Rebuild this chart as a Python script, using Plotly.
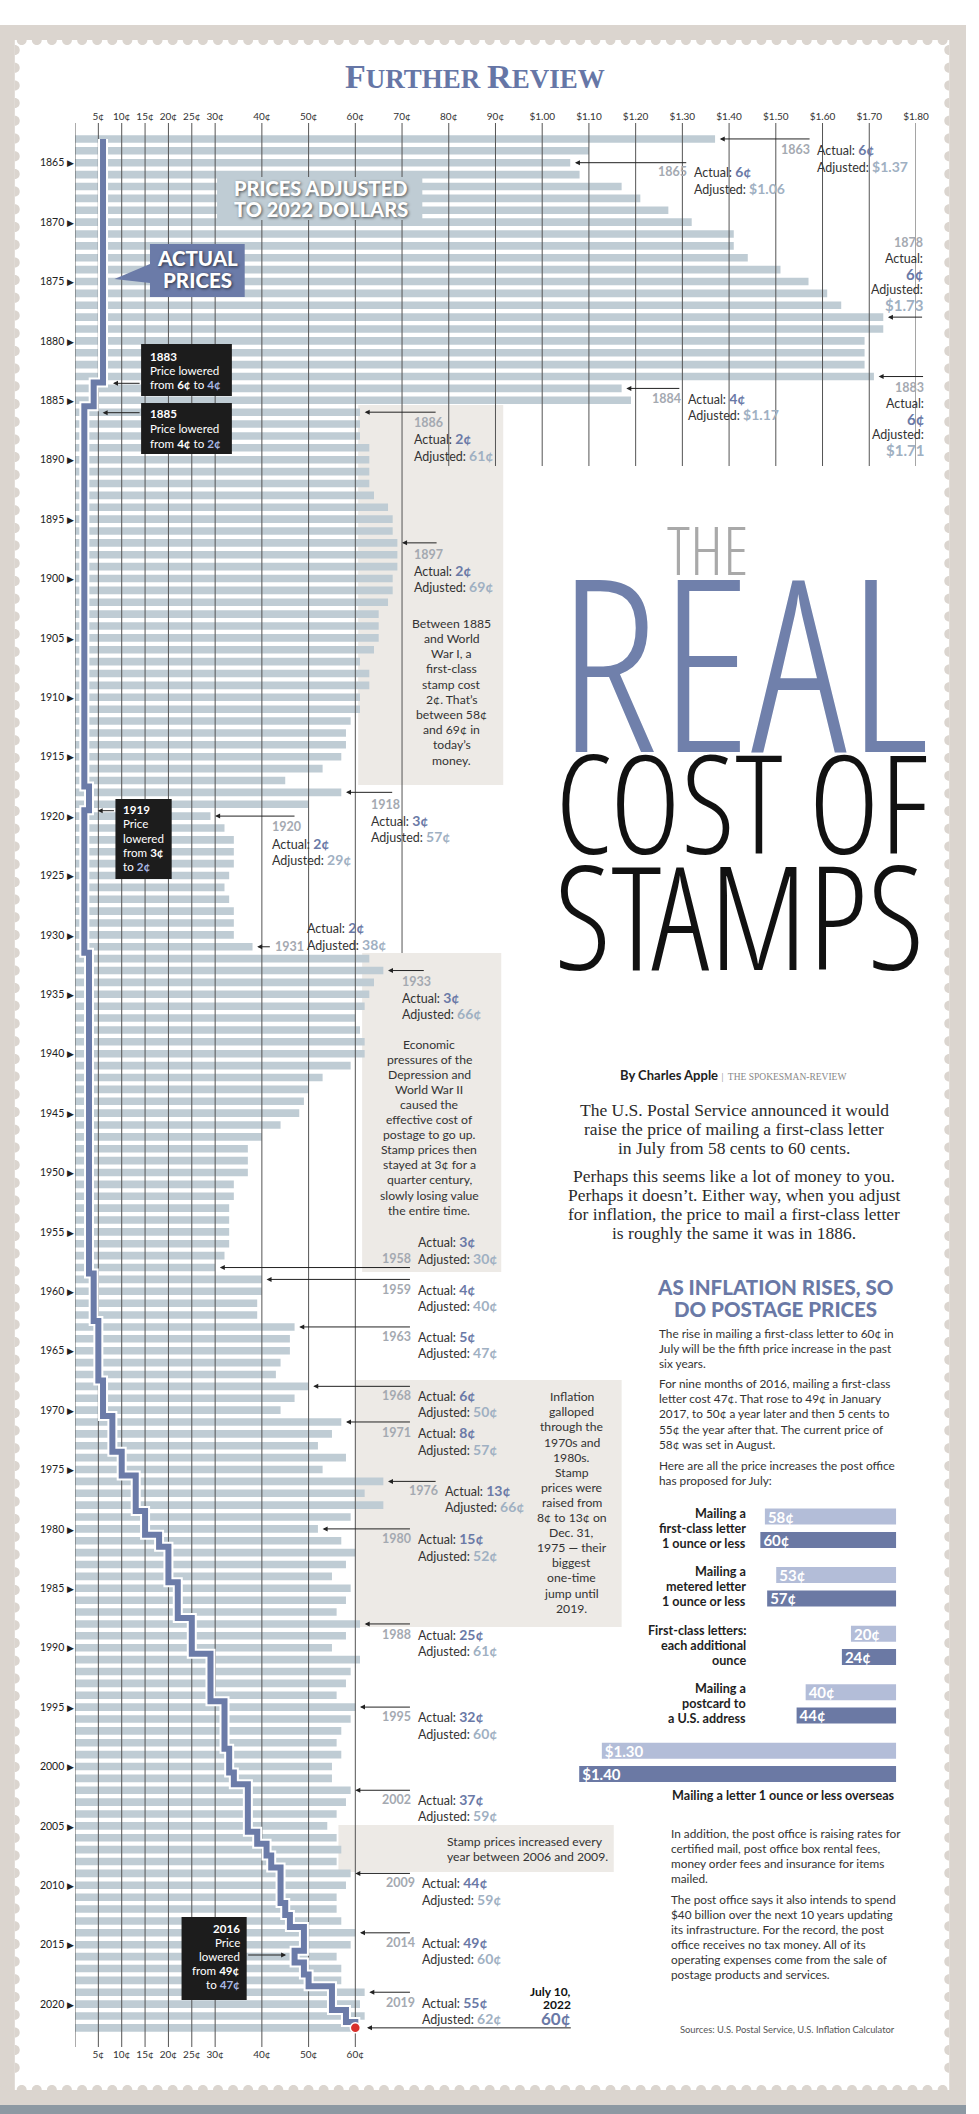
import plotly.graph_objects as go

W, H = 979, 2114

# ---------------- DATA ----------------
years = list(range(1863, 2023))

# Actual first-class price (cents), 1863-2022
actual = [
    6, 6, 6, 6, 6, 6, 6,                      # 1863-1869
    6, 6, 6, 6, 6, 6, 6, 6, 6, 6,             # 1870s
    6, 6, 6, 6, 4, 4, 2, 2, 2, 2,             # 1880s
    2, 2, 2, 2, 2, 2, 2, 2, 2, 2,             # 1890s
    2, 2, 2, 2, 2, 2, 2, 2, 2, 2,             # 1900s
    2, 2, 2, 2, 2, 2, 2, 2, 3, 3,             # 1910s
    2, 2, 2, 2, 2, 2, 2, 2, 2, 2,             # 1920s
    2, 2, 3, 3, 3, 3, 3, 3, 3, 3,             # 1930s
    3, 3, 3, 3, 3, 3, 3, 3, 3, 3,             # 1940s
    3, 3, 3, 3, 3, 3, 3, 3, 3, 4,             # 1950s
    4, 4, 4, 5, 5, 5, 5, 5, 6, 6,             # 1960s
    6, 8, 8, 8, 10, 10, 13, 13, 13, 15,       # 1970s
    15, 18, 20, 20, 20, 22, 22, 22, 25, 25,   # 1980s
    25, 29, 29, 29, 29, 32, 32, 32, 32, 33,   # 1990s
    33, 34, 37, 37, 37, 37, 39, 41, 42, 44,   # 2000s
    44, 44, 45, 46, 49, 49, 47, 49, 50, 55,   # 2010s
    55, 58, 60,                               # 2020-2022
]

# Price adjusted to 2022 dollars (cents), 1863-2022
adjusted = [
    137, 110, 106, 108, 117, 121, 127,
    132, 141, 141, 144, 151, 157, 161, 164, 173, 173,
    169, 169, 169, 171, 117, 119, 61, 61, 61, 63,
    63, 63, 63, 64, 67, 68, 68, 69, 69, 69,
    68, 68, 67, 65, 65, 65, 64, 61, 63, 63,
    61, 61, 59, 58, 58, 57, 53, 45, 57, 50,
    29, 32, 34, 34, 34, 33, 32, 33, 34, 34,
    34, 38, 63, 66, 64, 63, 62, 60, 61, 62,
    62, 59, 53, 50, 49, 48, 44, 40, 37, 37,
    37, 34, 34, 33, 33, 33, 33, 32, 30, 40,
    40, 39, 39, 47, 46, 46, 44, 43, 50, 47,
    44, 57, 55, 52, 58, 53, 66, 62, 66, 59,
    52, 57, 60, 58, 55, 59, 58, 56, 61, 58,
    55, 61, 59, 58, 56, 60, 59, 57, 56, 57,
    55, 55, 59, 58, 56, 54, 56, 57, 56, 59,
    58, 56, 56, 57, 60, 59, 56, 57, 57, 62,
    61, 62, 60,
]

top_ticks = [5, 10, 15, 20, 25, 30, 40, 50, 60, 70, 80, 90, 100, 110, 120,
             130, 140, 150, 160, 170, 180]
bottom_ticks = [5, 10, 15, 20, 25, 30, 40, 50, 60]
year_ticks = [1865, 1870, 1875, 1880, 1885, 1890, 1895, 1900, 1905, 1910,
              1915, 1920, 1925, 1930, 1935, 1940, 1945, 1950, 1955, 1960,
              1965, 1970, 1975, 1980, 1985, 1990, 1995, 2000, 2005, 2010,
              2015, 2020]

rate_items = ["first-class", "metered", "additional", "postcard", "overseas"]
rate_current = [58, 53, 20, 40, 130]
rate_proposed = [60, 57, 24, 44, 140]

# ---------------- HELPERS (layout geometry) ----------------
X0, XS = 76.0, 4.735      # px of 0 cents, px per cent
Y0, YS = 162.7, 11.88     # px of year 1865, px per year


def X(px):
    return (px - X0) / XS


def Y(py):
    return 1865 + (py - Y0) / YS


def PX(px):
    return px / W


def PY(py):
    return 1 - py / H


def money(c):
    return f"${c / 100:.2f}" if c >= 100 else f"{c}¢"


FONT = "Lato, 'Open Sans', sans-serif"
SERIF = "'Liberation Serif', 'DejaVu Serif', serif"
TITLE = "'Open Sans Condensed Light', 'Open Sans Condensed', 'Open Sans', sans-serif"
TXT = "#333333"
A_COL = "#6a79a6"
ADJ_COL = "#9fb0c2"
YR_COL = "#a4a9b1"
SLATE = "#6b7ba8"
BAR = "#bfccd4"

fig = go.Figure()

# adjusted bars
fig.add_trace(go.Bar(
    x=adjusted, y=years, orientation="h", width=0.64,
    marker=dict(color=BAR, line=dict(width=0)),
    xaxis="x", yaxis="y", hoverinfo="skip", showlegend=False))

# grid lines (drawn above bars, below step line)
gx, gy = [], []
for v in [0] + bottom_ticks:
    gx += [v, v, None]
    gy += [Y(123), Y(2047), None]
gx += [70, 70, None]
gy += [Y(123), Y(953), None]
for v in top_ticks[10:]:
    gx += [v, v, None]
    gy += [Y(123), Y(466), None]
fig.add_trace(go.Scatter(x=gx, y=gy, mode="lines",
                         line=dict(color="#555555", width=1),
                         xaxis="x", yaxis="y", hoverinfo="skip", showlegend=False))

# actual price step line
fig.add_trace(go.Scatter(x=actual, y=years, mode="lines",
                         line=dict(color="white", width=10, shape="vhv"),
                         xaxis="x", yaxis="y", hoverinfo="skip", showlegend=False))
fig.add_trace(go.Scatter(x=actual, y=years, mode="lines",
                         line=dict(color=SLATE, width=6, shape="vhv"),
                         xaxis="x", yaxis="y", hoverinfo="skip", showlegend=False))
fig.add_trace(go.Scatter(x=[actual[-1]], y=[years[-1]], mode="markers",
                         marker=dict(color="#d8302b", size=10,
                                     line=dict(color="white", width=1.5)),
                         xaxis="x2", yaxis="y", hoverinfo="skip", showlegend=False))

# small proposed-rates chart
for vals, off, col in [(rate_current, -0.336, "#b3bdd8"), (rate_proposed, 0.062, "#6b79a4")]:
    fig.add_trace(go.Bar(
        x=vals, y=rate_items, orientation="h", width=0.2735, offset=off,
        marker=dict(color=col, line=dict(width=0)),
        text=[money(v) for v in vals], textposition="inside",
        insidetextanchor="end", textangle=0, constraintext="none",
        textfont=dict(color="white", size=15, family=FONT, weight="bold"),
        xaxis="x3", yaxis="y3", hoverinfo="skip", showlegend=False))

# ---------------- SHAPES ----------------
shapes = []


def rect(x0, y0, x1, y1, color, layer="below"):
    shapes.append(dict(type="rect", xref="paper", yref="paper",
                       x0=PX(x0), x1=PX(x1), y0=PY(y1), y1=PY(y0),
                       fillcolor=color, line=dict(width=0), layer=layer))


# stamp frame
rect(0, 25, W, 2105, "#dbd5cf")
rect(0, 2105, W, H, "#8d99a3")
rect(15, 40, 962, 2090, "#ffffff")
r = 5.0
k = 1.33 * r
parts = []
x = 22.0
while x < 958:
    parts.append(f"M{PX(x - r)},{PY(40)} C{PX(x - r)},{PY(40 + k)} {PX(x + r)},{PY(40 + k)} {PX(x + r)},{PY(40)} Z")
    parts.append(f"M{PX(x - r)},{PY(2090)} C{PX(x - r)},{PY(2090 - k)} {PX(x + r)},{PY(2090 - k)} {PX(x + r)},{PY(2090)} Z")
    x += 15.3
y = 50.0
while y < 2085:
    parts.append(f"M{PX(15)},{PY(y - r)} C{PX(15 + k)},{PY(y - r)} {PX(15 + k)},{PY(y + r)} {PX(15)},{PY(y + r)} Z")
    parts.append(f"M{PX(962)},{PY(y - r)} C{PX(962 - k)},{PY(y - r)} {PX(962 - k)},{PY(y + r)} {PX(962)},{PY(y + r)} Z")
    y += 17.7
shapes.append(dict(type="path", xref="paper", yref="paper", path=" ".join(parts),
                   fillcolor="#dbd5cf", line=dict(width=0), layer="below"))

# grey note boxes
BOX = "#edeae6"
rect(363, 405, 510, 785, BOX)
rect(367, 953, 508, 1272, BOX)
rect(360, 1380, 630, 1627, BOX)
rect(343, 1825, 622, 1872, BOX)

# label boxes over chart
rect(220, 177, 428, 220, BAR, "above")
rect(152, 244, 248, 297, SLATE, "above")
shapes.append(dict(type="path", xref="paper", yref="paper",
                   path=f"M{PX(152)},{PY(264)} L{PX(116)},{PY(279)} L{PX(152)},{PY(283)} Z",
                   fillcolor=SLATE, line=dict(width=0), layer="above"))
BLK = "#1c1c1c"
rect(143, 344, 235, 396, BLK, "above")
rect(143, 403, 235, 454, BLK, "above")
rect(117, 799, 174, 879, BLK, "above")
rect(184, 1917, 250, 2000, BLK, "above")

# ---------------- ANNOTATIONS ----------------
ann = []


def arrow(xh, yh, xt):
    ann.append(dict(x=xh, y=yh, ax=xt, ay=yh, xref="x", yref="y", axref="x",
                    ayref="y", text="", showarrow=True, arrowhead=2, arrowsize=1,
                    arrowwidth=1, arrowcolor="#222222", standoff=0))


def txt(text, px, py, xanchor="left", size=12.5, color=TXT, family=FONT,
        weight=None, shadow=None):
    f = dict(size=size, color=color, family=family)
    if weight:
        f["weight"] = weight
    if shadow:
        f["shadow"] = shadow
    ann.append(dict(x=PX(px), y=PY(py), xref="paper", yref="paper", text=text,
                    showarrow=False, xanchor=xanchor, yanchor="middle",
                    align=xanchor, font=f, borderpad=0))


def lines(rows, px, py0, dy, xanchor="left", **kw):
    for j, row in enumerate(rows):
        txt(row, px, py0 + j * dy, xanchor, **kw)


def val(c, color, size=14):
    return f"<b><span style='color:{color};font-size:{size}px'>{money(c)}</span></b>"


def yr(year):
    return f"<b><span style='color:{YR_COL}'>{year}</span></b>"


def adj_of(year):
    return adjusted[years.index(year)]


def act_of(year):
    return actual[years.index(year)]


def act_line(year):
    return f"Actual: {val(act_of(year), A_COL)}"


def adj_line(year):
    return f"Adjusted: {val(adj_of(year), ADJ_COL)}"


LS = 16.3  # callout line spacing

# inline callouts (year label left of 'Actual')
inline = [(1863, 822, 826.5, 150), (1865, 697, 702.7, 171.7), (1884, 690, 696, 398.3),
          (1959, 417, 422.7, 1289), (1963, 417, 422.7, 1336.5), (1968, 417, 422.7, 1395),
          (1971, 417, 422.7, 1432.7), (1976, 443, 450, 1490), (1980, 417, 422.7, 1538.7),
          (1988, 417, 422.7, 1634), (1995, 417, 422.7, 1716.7), (2002, 417, 422.7, 1799),
          (2009, 417, 426.7, 1882.7), (2014, 417, 426.7, 1942), (2019, 417, 426.7, 2002)]
for year, tail, xl, y1 in inline:
    arrow(adj_of(year) + 1, year, X(tail))
    txt(yr(year), xl - 5, y1, "right")
    lines([act_line(year), adj_line(year)], xl, y1, LS)

# stacked callouts
stacked = [(1886, 443, 419, 422.7), (1897, 444, 419, 554), (1918, 399, 375, 804),
           (1920, 300, 275, 826.7), (1933, 431, 406, 981)]
for year, tail, xl, y1 in stacked:
    arrow(adj_of(year) + 1, year, X(tail))
    lines([yr(year), act_line(year), adj_line(year)], xl, y1, LS)

# right-aligned callouts
for year, xr, y1 in [(1878, 936, 242.7), (1883, 937, 387.7)]:
    arrow(adj_of(year) + 1, year, X(xr))
    lines([yr(year), "Actual:", val(act_of(year), A_COL, 15), "Adjusted:",
           val(adj_of(year), ADJ_COL, 15)], xr, y1, 15.6, "right")

# 1931
arrow(adj_of(1931) + 1, 1931, X(275))
txt(yr(1931), 278, 946.7, "left")
lines([act_line(1931), adj_line(1931)], 310, 927.7, 17)
# 1958
arrow(adj_of(1958) + 1, 1958, X(417))
lines([act_line(1958), adj_line(1958)], 422.7, 1241.7, 16.6)
txt(yr(1958), 417.7, 1258.3, "right")

# 2022
arrow(actual[-1] + 2.5, 2022, X(580))
txt("<b>July 10,</b>", 580, 1991, "right", size=12, color="#111")
txt("<b>2022</b>", 580, 2004.5, "right", size=12, color="#111")
txt(f"<b>{money(actual[-1])}</b>", 580, 2018.5, "right", size=17, color=A_COL)

# black box notes
LB = "#aab8e6"


def lb(c):
    return f"<b><span style='color:{LB}'>{money(c)}</span></b>"


WK = dict(size=11.6, color="white")
lines(["<b>1883</b>", "Price lowered",
       f"from <b>{money(act_of(1883))}</b> to {lb(act_of(1884))}"], 150.7, 356, 14.2, **WK)
arrow(X(114.5), Y(383.3), X(143))
lines(["<b>1885</b>", "Price lowered",
       f"from <b>{money(act_of(1885))}</b> to {lb(act_of(1886))}"], 150.7, 414, 14.6, **WK)
arrow(X(104), Y(412.7), X(143))
lines(["<b>1919</b>", "Price", "lowered", f"from <b>{money(act_of(1919))}</b>",
       f"to {lb(act_of(1920))}"], 123.3, 809.3, 14.35, **WK)
arrow(X(99), Y(810.7), X(117))
lines(["<b>2016</b>", "Price", "lowered", f"from <b>{money(act_of(2015))}</b>",
       f"to {lb(act_of(2016))}"], 244, 1928.3, 14.0, "right", **WK)
ann.append(dict(x=X(290), y=Y(1955), ax=X(250), ay=Y(1955), xref="x", yref="y",
                axref="x", ayref="y", text="", showarrow=True, arrowhead=2,
                arrowsize=1, arrowwidth=1, arrowcolor="#222222", standoff=0))

# chart labels
SH = "1px 1px 3px rgba(0,0,0,0.6)"
lines(["PRICES ADJUSTED", "TO 2022 DOLLARS"], 325, 188.3, 21, "center", size=20,
      color="white", weight=900, shadow=SH)
lines(["ACTUAL", "PRICES"], 200, 258.3, 21.7, "center", size=20.5, color="white",
      weight=900, shadow=SH)

# box paragraphs
lines(["Between 1885", "and World", "War I, a", "first-class", "stamp cost", "2¢. That’s",
       "between 58¢", "and 69¢ in", "today’s", "money."], 458, 623.3, 15.2, "center", size=12.2)
lines(["Economic", "pressures of the", "Depression and", "World War II", "caused the",
       "effective cost of", "postage to go up.", "Stamp prices then", "stayed at 3¢ for a",
       "quarter century,", "slowly losing value", "the entire time."], 435, 1044, 15.1,
      "center", size=12.2)
lines(["Inflation", "galloped", "through the", "1970s and", "1980s.", "Stamp", "prices were",
       "raised from", "8¢ to 13¢ on", "Dec. 31,", "1975 — their", "biggest", "one-time",
       "jump until", "2019."], 579.3, 1396.7, 15.1, "center", size=12.2)
lines(["Stamp prices increased every", "year between 2006 and 2009."], 452.3, 1841,
      15.3, "left", size=12.2)

# header
txt("<b><span style='font-size:34px'>F</span>URTHER <span style='font-size:34px'>R</span>EVIEW</b>",
    481, 77, "center", size=27, color="#6676a6", family=SERIF)

# title
ST = "<span style='font-stretch:condensed'>{}</span>"
txt(ST.format("THE"), 717, 549, "center", size=66, color="#a9a9a9", family=TITLE, weight=300)
txt(ST.format("REAL"), 753, 658.7, "center", size=240, color="#7080ab", family=TITLE, weight=300)
txt(ST.format("COST OF"), 751, 801, "center", size=137, color="#111111", family=TITLE, weight=300)
txt(ST.format("STAMPS"), 749, 914, "center", size=145, color="#111111", family=TITLE, weight=300)

# byline and intro
txt("<b>By Charles Apple</b> <span style='font-family:Liberation Serif;font-size:9.5px;color:#888'>"
    "|  THE SPOKESMAN-REVIEW</span>", 743, 1075, "center", size=13, color="#222")
lines(["The U.S. Postal Service announced it would",
       "raise the price of mailing a first-class letter",
       "in July from 58 cents to 60 cents."], 744, 1110, 19.2, "center",
      size=17.5, color="#2b2b2b", family=SERIF)
lines(["Perhaps this seems like a lot of money to you.",
       "Perhaps it doesn’t. Either way, when you adjust",
       "for inflation, the price to mail a first-class letter",
       "is roughly the same it was in 1886."], 744, 1176, 19.1, "center",
      size=17.5, color="#2b2b2b", family=SERIF)

lines(["AS INFLATION RISES, SO", "DO POSTAGE PRICES"], 785.7, 1287, 21.5, "center",
      size=20.5, color="#6a79a6", weight=900)

BS = dict(size=11.8)
lines(["The rise in mailing a first-class letter to 60¢ in",
       "July will be the fifth price increase in the past", "six years."],
      667.3, 1333.3, 15.1, **BS)
lines(["For nine months of 2016, mailing a first-class",
       "letter cost 47¢. That rose to 49¢ in January",
       "2017, to 50¢ a year later and then 5 cents to",
       "55¢ the year after that. The current price of",
       "58¢ was set in August."], 667.3, 1383.3, 15.25, **BS)
lines(["Here are all the price increases the post office", "has proposed for July:"],
      667.3, 1465, 15.3, **BS)

# rate chart labels
LK = dict(size=12.6, color="#1e1e1e")
lines(["<b>Mailing a</b>", "<b>first-class letter</b>", "<b>1 ounce or less</b>"],
      757, 1513.3, 15.0, "right", **LK)
lines(["<b>Mailing a</b>", "<b>metered letter</b>", "<b>1 ounce or less</b>"],
      757, 1571, 15.3, "right", **LK)
lines(["<b>First-class letters:</b>", "<b>each additional</b>", "<b>ounce</b>"],
      757, 1630, 15.0, "right", **LK)
lines(["<b>Mailing a</b>", "<b>postcard to</b>", "<b>a U.S. address</b>"],
      757, 1688.3, 15.0, "right", **LK)
txt("<b>Mailing a letter 1 ounce or less overseas</b>", 908.3, 1795, "right", **LK)

lines(["In addition, the post office is raising rates for",
       "certified mail, post office box rental fees,",
       "money order fees and insurance for items", "mailed."], 679, 1833.3, 15.0, **BS)
lines(["The post office says it also intends to spend",
       "$40 billion over the next 10 years updating",
       "its infrastructure. For the record, the post",
       "office receives no tax money. All of its",
       "operating expenses come from the sale of",
       "postage products and services."], 679, 1899, 15.06, **BS)
txt("Sources: U.S. Postal Service, U.S. Inflation Calculator", 908.3, 2029.3, "right",
    size=9.4, color="#555")

# ---------------- LAYOUT ----------------
xdom = [X0 / W, (X0 + 180 * XS) / W]
fig.update_layout(
    width=W, height=H, margin=dict(l=0, r=0, t=0, b=0),
    paper_bgcolor="white", plot_bgcolor="rgba(0,0,0,0)",
    showlegend=False, barmode="overlay", hovermode=False,
    font=dict(family=FONT, color=TXT),
    xaxis=dict(domain=xdom, range=[0, 180], tickvals=bottom_ticks,
               ticktext=[money(v) for v in bottom_ticks], showgrid=False,
               zeroline=False, showline=False, ticks="", anchor="y",
               tickfont=dict(size=10, color="#333", family=FONT), fixedrange=True),
    xaxis2=dict(overlaying="x", side="top", range=[0, 180], tickvals=top_ticks,
                ticktext=[money(v) for v in top_ticks], showgrid=False,
                zeroline=False, showline=False, ticks="", anchor="y",
                tickfont=dict(size=10, color="#333", family=FONT), fixedrange=True),
    yaxis=dict(domain=[1 - 2047 / H, 1 - 123 / H], range=[Y(2047), Y(123)],
               tickvals=year_ticks,
               ticktext=[f"{v} <span style='font-size:9px'>▶</span>" for v in year_ticks],
               showgrid=False, zeroline=False, showline=False, ticks="", anchor="x",
               tickfont=dict(size=10.5, color="#222", family=FONT), fixedrange=True),
    xaxis3=dict(domain=[PX(580), PX(908.3)], range=[(908.3 - 580) / 2.295, 0],
                visible=False, anchor="y3", fixedrange=True),
    yaxis3=dict(domain=[PY(1791.6), PY(1499)], range=[4.5, -0.5], type="category",
                categoryorder="array", categoryarray=rate_items,
                visible=False, anchor="x3", fixedrange=True),
    shapes=shapes,
    annotations=ann,
)

fig.write_html("out.html", config={"displayModeBar": False},
               post_script="document.body.style.margin='0px';")
